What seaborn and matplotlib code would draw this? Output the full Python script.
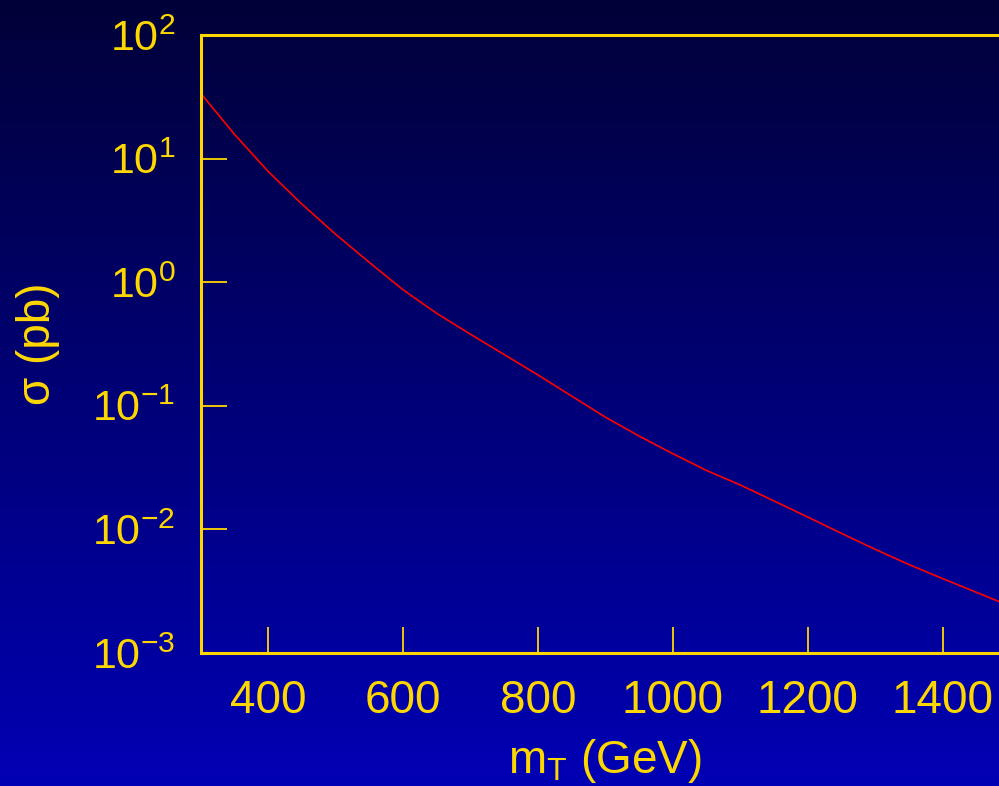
import numpy as np
import pandas as pd
import matplotlib
matplotlib.use("Agg")
import matplotlib.pyplot as plt
import seaborn as sns
from matplotlib.colors import LinearSegmentedColormap
from matplotlib.ticker import LogLocator, NullLocator

# Data
mass_gev = [300, 350, 400, 450, 500, 550, 600, 650, 700, 750, 800, 850, 900,
            950, 1000, 1050, 1100, 1150, 1200, 1250, 1300, 1350, 1400, 1450, 1500]
sigma_pb = [33.9, 15.8, 7.9, 4.3, 2.45, 1.45, 0.87, 0.56, 0.38, 0.26, 0.178,
            0.120, 0.081, 0.057, 0.041, 0.030, 0.0229, 0.0170, 0.0126, 0.0093,
            0.0069, 0.0052, 0.0040, 0.0031, 0.0024]
x_ticks = [400, 600, 800, 1000, 1200, 1400]

df = pd.DataFrame({"m": mass_gev, "sigma": sigma_pb})

sns.set_theme(style="white")
plt.rcParams["font.family"] = ["Liberation Sans", "DejaVu Sans"]
plt.rcParams["mathtext.fontset"] = "custom"
plt.rcParams["mathtext.rm"] = "Liberation Sans"
plt.rcParams["mathtext.it"] = "Liberation Sans:italic"
plt.rcParams["mathtext.sf"] = "Liberation Sans"

gold = "#FFD700"
fig = plt.figure(figsize=(9.99, 7.86), dpi=100)

# gradient background
bg = fig.add_axes([0, 0, 1, 1], zorder=0)
cmap = LinearSegmentedColormap.from_list("bg", ["#000038", "#0000B4"])
grad = np.linspace(0, 1, 256).reshape(-1, 1)
bg.imshow(grad, aspect="auto", cmap=cmap, extent=[0, 1, 0, 1], origin="upper")
bg.set_axis_off()

W, H = 999, 786
left, right, top, bottom = 200.5, 1010, 35, 653
ax = fig.add_axes([left / W, 1 - bottom / H, (right - left) / W, (bottom - top) / H], zorder=1)
ax.set_facecolor("none")
sns.lineplot(data=df, x="m", y="sigma", ax=ax, color="#FF0000", linewidth=1.2)
ax.set_yscale("log")
ax.set_xlim(300, 1500)
ax.set_ylim(1e-3, 1e2)
ax.set_xticks(x_ticks)
ax.set_xticklabels([str(t) for t in x_ticks])
ax.yaxis.set_major_locator(LogLocator(base=10, numticks=10))
ax.yaxis.set_minor_locator(NullLocator())

for s in ax.spines.values():
    s.set_color(gold)
    s.set_linewidth(2.2)
ax.tick_params(axis="both", which="major", direction="in", length=19, width=1.3,
               color=gold, labelcolor=gold, bottom=True, left=True,
               top=False, right=False)
ax.tick_params(axis="y", pad=18, labelsize=31)
ax.tick_params(axis="x", pad=19, labelsize=33)
ax.set_xlabel(r"m$_{\mathrm{T}}$ (GeV)", color=gold, fontsize=33, labelpad=10)
ax.set_ylabel("σ (pb)", color=gold, fontsize=33, labelpad=23)

fig.savefig("out.png", dpi=100)
